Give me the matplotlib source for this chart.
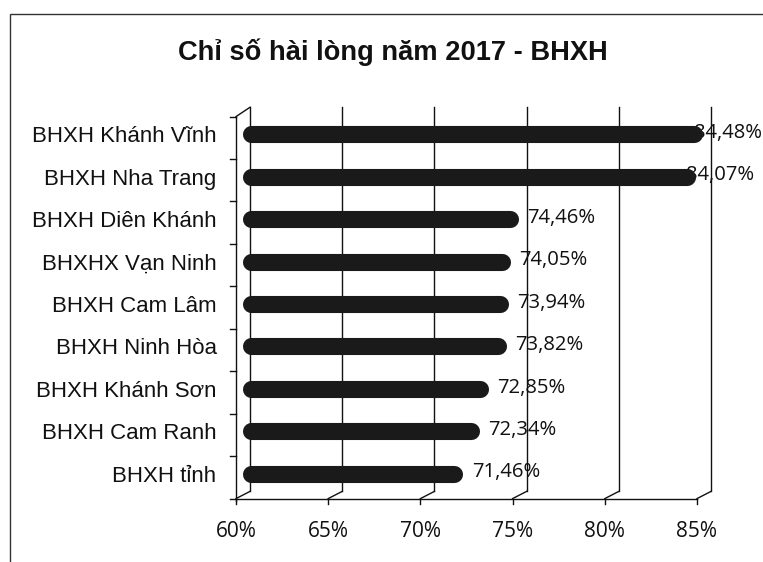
import matplotlib
matplotlib.use("Agg")
import matplotlib.pyplot as plt
from matplotlib.patches import Rectangle

# data
categories = [
    "BHXH Khánh Vĩnh",
    "BHXH Nha Trang",
    "BHXH Diên Khánh",
    "BHXHX Vạn Ninh",
    "BHXH Cam Lâm",
    "BHXH Ninh Hòa",
    "BHXH Khánh Sơn",
    "BHXH Cam Ranh",
    "BHXH tỉnh",
]
values = [84.48, 84.07, 74.46, 74.05, 73.94, 73.82, 72.85, 72.34, 71.46]
x_ticks = [60, 65, 70, 75, 80, 85]
title = "Chỉ số hài lòng năm 2017 - BHXH"

LABEL_FONT = "Liberation Sans"
NUM_FONT = "Open Sans"
INK = "#1a1a1a"

W, H = 763, 562
fig = plt.figure(figsize=(W / 100, H / 100), dpi=100)
fig.patch.set_facecolor("white")

# outer chart frame (left and top edge visible in scan)
fig.patches.append(Rectangle((10 / W, -0.1), 1.2, 1.1 - 14 / H,
                             transform=fig.transFigure, fill=False,
                             edgecolor="#333333", lw=1.0, clip_on=False))

fig.text(393 / W, 1 - 52 / H, title, ha="center", va="center",
         fontsize=19.6, fontweight="bold", family=LABEL_FONT, color="#111111")

ax = fig.add_axes([243 / W, 1 - 495 / H, 461 / W, 382 / H])
n = len(categories)
ypos = list(range(n))
ax.set_xlim(x_ticks[0], x_ticks[-1])
ax.set_ylim(n - 0.5, -0.5)
for s in ax.spines.values():
    s.set_visible(False)
ax.set_xticks([])
ax.set_yticks(ypos, categories)
ax.tick_params(axis="y", length=0, pad=19)
for lab in ax.get_yticklabels():
    lab.set_fontsize(16)
    lab.set_family(LABEL_FONT)
    lab.set_color("#111111")

# 3d depth (front / back plane offset in data units)
dx = 0.38
dy = 0.085
lo, hi = x_ticks[0], x_ticks[-1]
bottom, top = n - 0.5, -0.5
lk = dict(color="#111111", lw=1.0, clip_on=False, zorder=1)

# back wall gridlines and floor edges
for t in x_ticks:
    ax.plot([t + dx, t + dx], [bottom - dy, top - dy - 0.05], **lk)
    ax.plot([t + dx, t - dx], [bottom - dy, bottom + dy], **lk)
    ax.plot([t - dx, t - dx], [bottom + dy, bottom + dy + 0.12], **lk)
    ax.annotate(f"{t}%", (t - dx, bottom + dy), xytext=(0, -24),
                textcoords="offset points", ha="center", va="center",
                fontsize=15, family=NUM_FONT, color="#111111",
                annotation_clip=False)

# front axis line
ax.plot([lo - dx, hi - dx], [bottom + dy, bottom + dy], **lk)
# left wall
ax.plot([lo - dx, lo - dx], [bottom + dy + 0.06, top + dy], **lk)
ax.plot([lo - dx, lo + dx], [top + dy, top - dy - 0.05], **lk)
for k in range(n + 1):
    yb = k - 0.5 + dy
    ax.plot([lo - dx - 0.3, lo - dx], [yb, yb], **lk)

# bars as rounded cylinders
r = 0.46
ax.hlines(ypos, lo + r, values, colors=INK, lw=12.3,
          capstyle="round", zorder=3)

for y, v in zip(ypos, values):
    off = -9 if v > 80 else 9
    ax.annotate(f"{v:.2f}%".replace(".", ","), (v + r, y), xytext=(off * 0.72, 1),
                textcoords="offset points", ha="left", va="center",
                fontsize=14.6, family=NUM_FONT, color="#111111", zorder=2,
                annotation_clip=False)

fig.savefig("out.png", dpi=100)
